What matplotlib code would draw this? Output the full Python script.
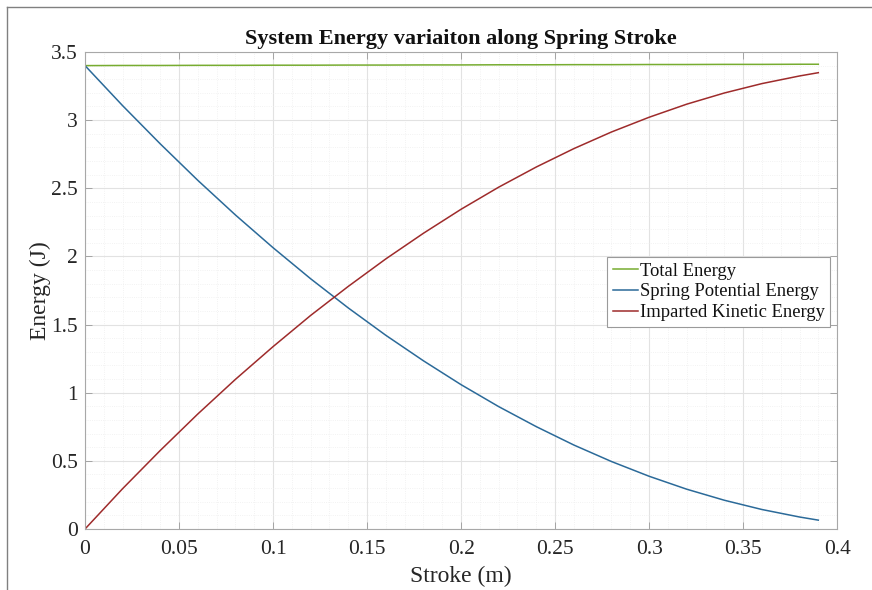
import matplotlib.pyplot as plt
from matplotlib.lines import Line2D
from matplotlib.ticker import MultipleLocator

plt.rcParams['font.family'] = ['Liberation Serif', 'DejaVu Serif']

# Values
stroke = [0.00, 0.02, 0.04, 0.06, 0.08, 0.10, 0.12, 0.14, 0.16, 0.18, 0.20,
          0.22, 0.24, 0.26, 0.28, 0.30, 0.32, 0.34, 0.36, 0.38, 0.39]
total_energy = [3.400, 3.401, 3.401, 3.402, 3.402, 3.403, 3.403, 3.404, 3.404,
                3.405, 3.405, 3.406, 3.406, 3.407, 3.407, 3.408, 3.408, 3.409,
                3.409, 3.410, 3.410]
spring_pe = [3.400, 3.106, 2.826, 2.558, 2.304, 2.064, 1.836, 1.622, 1.421,
             1.234, 1.059, 0.898, 0.751, 0.616, 0.495, 0.387, 0.292, 0.211,
             0.143, 0.088, 0.065]
kinetic_e = [0.000, 0.296, 0.576, 0.844, 1.098, 1.338, 1.567, 1.780, 1.982,
             2.170, 2.346, 2.508, 2.656, 2.791, 2.913, 3.021, 3.117, 3.199,
             3.268, 3.324, 3.348]

x_ticks = [0, 0.05, 0.1, 0.15, 0.2, 0.25, 0.3, 0.35, 0.4]
x_ticklabels = ['0', '0.05', '0.1', '0.15', '0.2', '0.25', '0.3', '0.35', '0.4']
y_ticks = [0, 0.5, 1, 1.5, 2, 2.5, 3, 3.5]
y_ticklabels = ['0', '0.5', '1', '1.5', '2', '2.5', '3', '3.5']

fig = plt.figure(figsize=(8.72, 5.90), dpi=100)
ax = fig.add_axes([0.0975, 0.1034, 0.8625, 0.8085])

ax.plot(stroke, total_energy, c='#77AC30', lw=1.1, label='Total Energy')
ax.plot(stroke, spring_pe, c='#2b6a99', lw=1.1, label='Spring Potential Energy')
ax.plot(stroke, kinetic_e, c='#9e2b2b', lw=1.1, label='Imparted Kinetic Energy')

ax.set_xlim(0, 0.4)
ax.set_ylim(0, 3.5)
ax.set_xticks(x_ticks, x_ticklabels)
ax.set_yticks(y_ticks, y_ticklabels)
ax.xaxis.set_minor_locator(MultipleLocator(0.01))
ax.yaxis.set_minor_locator(MultipleLocator(0.1))

ax.grid(which='major', color='#e2e2e2', lw=0.8)
ax.grid(which='minor', color='#eeeeee', lw=0.6, ls=':')
ax.set_axisbelow(True)
ax.tick_params(which='major', direction='in', length=5, width=0.6,
               color='#9a9a9a', labelsize=15.5, labelcolor='#262626',
               top=True, right=True)
ax.tick_params(axis='x', which='major', pad=8)
ax.tick_params(axis='y', which='major', pad=5)
ax.tick_params(which='minor', length=0, top=True, right=True)
for s in ax.spines.values():
    s.set_color('#a8a8a8')
    s.set_linewidth(0.8)

ax.set_title('System Energy variaiton along Spring Stroke', fontsize=16,
             fontweight='bold', color='#111111', pad=6)
ax.set_xlabel('Stroke (m)', fontsize=17, color='#262626', labelpad=5)
ax.set_ylabel('Energy (J)', fontsize=17, color='#262626', labelpad=0)

leg = ax.legend(loc='upper left', bbox_to_anchor=(0.694, 0.570), fontsize=13.4,
                frameon=True, fancybox=False, framealpha=1, borderaxespad=0,
                handlelength=1.35, handletextpad=0.1, borderpad=0.3,
                labelspacing=0.2)
leg.get_frame().set_edgecolor('#9a9a9a')
leg.get_frame().set_linewidth(0.8)
for t in leg.get_texts():
    t.set_color('#111111')

# screenshot frame on top and left
fig.add_artist(Line2D([0.008, 1.0], [0.988, 0.988], color='#808080', lw=1.0))
fig.add_artist(Line2D([0.008, 0.008], [0.0, 0.988], color='#808080', lw=1.0))

fig.savefig('out.png', dpi=100)
